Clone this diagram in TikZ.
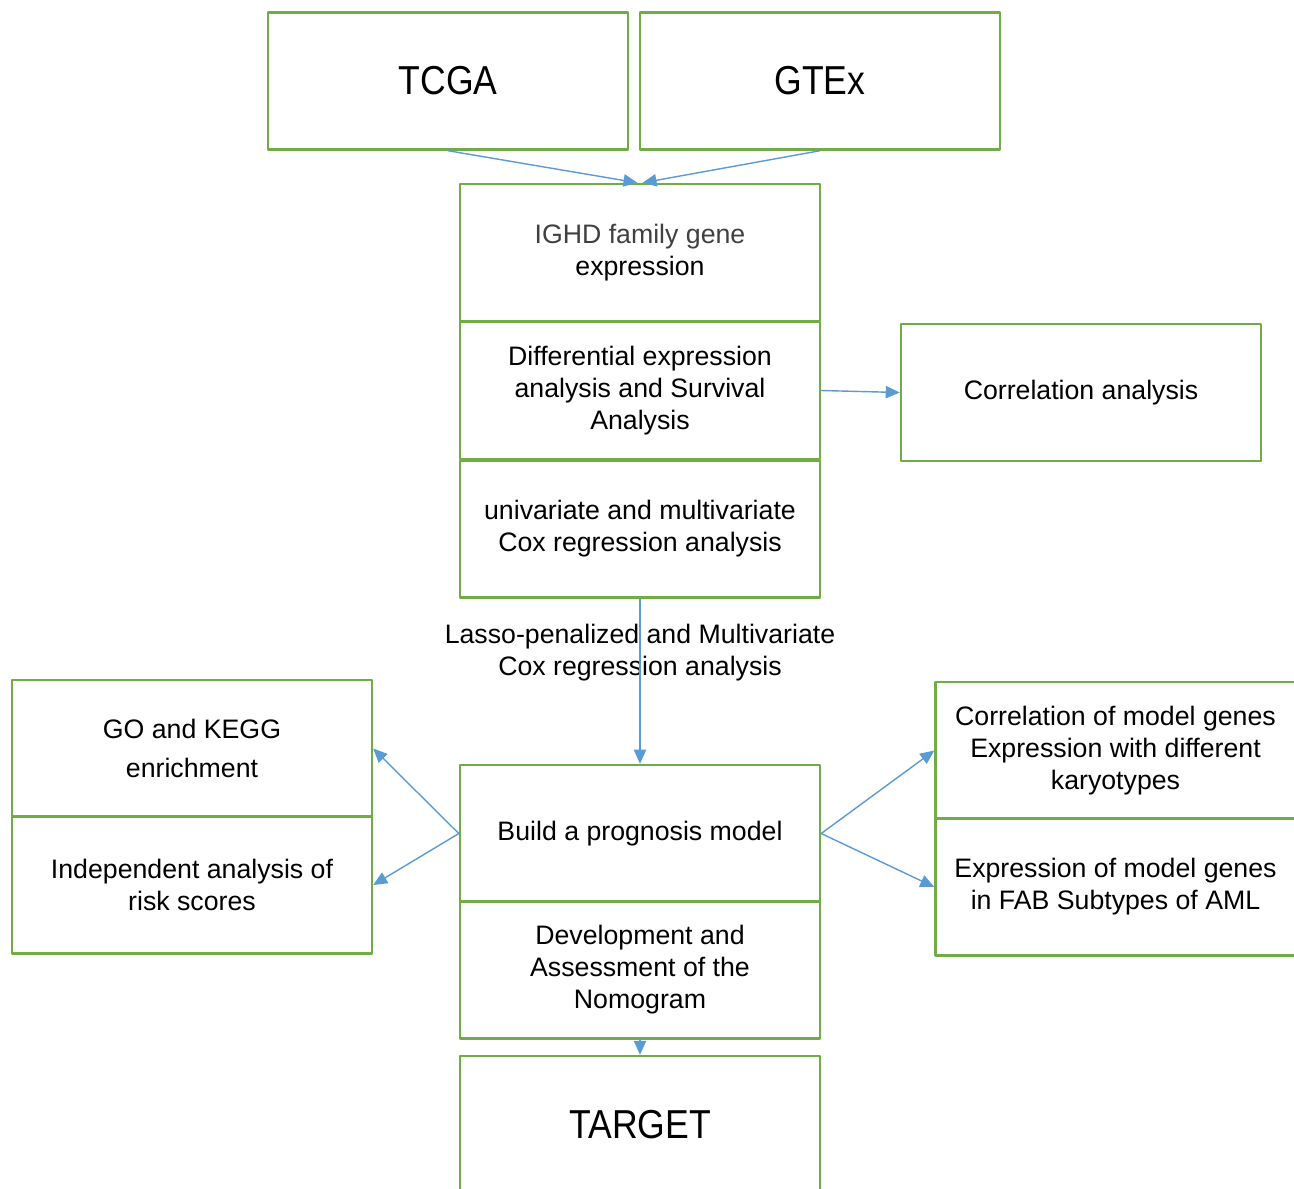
\documentclass[tikz,border=0pt]{standalone}
\usepackage{fontspec}
\setmainfont{Liberation Sans}
\newfontfamily\titlefont[FakeStretch=0.88]{Liberation Sans}
\usetikzlibrary{arrows.meta}
\definecolor{boxgreen}{RGB}{112,173,71}
\definecolor{arrowblue}{RGB}{91,155,213}
\definecolor{textgrey}{RGB}{64,64,64}
\tikzset{
	box/.style={draw=boxgreen, line width=1.4pt, minimum width=7.2cm, minimum height=2.74cm, inner sep=0pt, align=center},
	bigbox/.style={box, font=\fontsize{23}{27}\titlefont},
	flow/.style={->, arrowblue, line width=0.8pt},
}
\begin{document}
\begin{tikzpicture}[x=0.02cm, y=-0.02cm, font=\fontsize{15.2}{18.2}\selectfont, line join=round, >={Triangle[length=8pt, width=7pt]}]
			\useasboundingbox (0,0) rectangle (1294,1188);
			% --- data sources
			\node[bigbox] (tcga) at (448,81) {TCGA};
			\node[bigbox] (gtex) at (820,81) {GTEx};
			% --- middle column
			\node[box] (ighd) at (640,252.5) {{\color{textgrey}IGHD family gene}\\expression};
			\node[box] (diff) at (640,390.5) {Differential expression\\analysis and Survival\\Analysis};
			\node[box] (cox) at (640,529) {univariate and multivariate\\Cox regression analysis};
			\node[box] (corr) at (1081,392.5) {Correlation analysis};
			\node[align=center] (lasso) at (640,653) {Lasso-penalized and Multivariate\\Cox regression analysis};
			\node[box] (model) at (640,833.5) {Build a prognosis model};
			\node[box] (nomo) at (640,970) {Development and\\Assessment of the\\Nomogram};
			\node[bigbox] (target) at (640,1124.5) {TARGET};
			% --- left and right
			\node[box] (enrich) at (192,748.5) {GO and KEGG\\[0.14cm]enrichment};
			\node[box] (risk) at (192,885) {Independent analysis of\\risk scores};
			\node[box] (karyo) at (1115.5,750.5) {Correlation of model genes\\Expression with different\\karyotypes};
			\node[box] (fab) at (1115.5,887) {Expression of model genes\\in FAB Subtypes of AML};
			% --- arrows
			\draw[flow] (tcga.south) -- ([xshift=-0.05cm]ighd.north);
			\draw[flow] (gtex.south) -- ([xshift=0.05cm]ighd.north);
			\draw[flow] (diff.east) -- (corr.west);
			\draw[flow] (cox.south) -- (model.north);
			\draw[flow] (model.west) -- (enrich.east);
			\draw[flow] (model.west) -- (risk.east);
			\draw[flow] (model.east) -- (karyo.west);
			\draw[flow] (model.east) -- (fab.west);
			\draw[flow] (nomo.south) -- (target.north);
		\end{tikzpicture}
\end{document}
